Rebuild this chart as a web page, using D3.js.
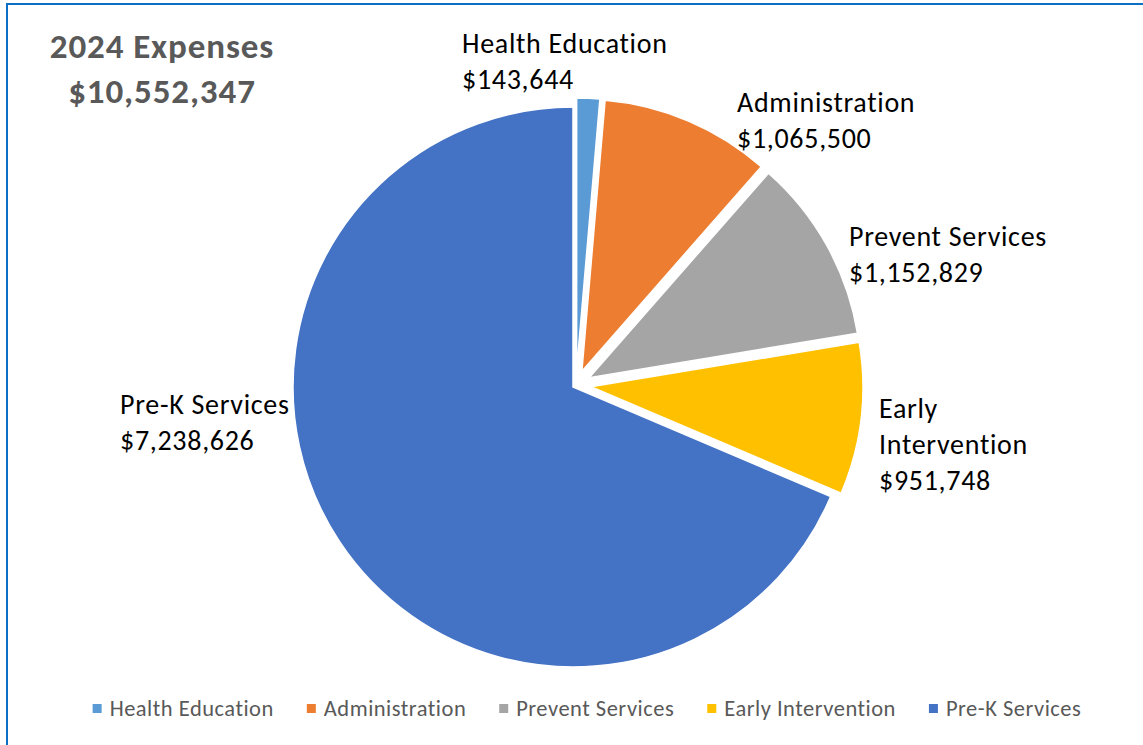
<!DOCTYPE html>
<html>
<head>
<meta charset="utf-8">
<script src="https://cdn.jsdelivr.net/npm/d3@7"></script>
<style>
  html, body { margin: 0; padding: 0; background: #fff; }
  svg { display: block; }
  text { font-family: Carlito, Lato, "Open Sans", sans-serif; }
</style>
</head>
<body>
<svg id="chart" width="1143" height="745"></svg>
<script>
// ---- data ----
const categories = ["Health Education", "Administration", "Prevent Services", "Early Intervention", "Pre-K Services"];
const values = [143644, 1065500, 1152829, 951748, 7238626];
const labelNames = [["Health Education"], ["Administration"], ["Prevent Services"], ["Early", "Intervention"], ["Pre-K Services"]];
const titleText = "2024 Expenses";

// ---- styles / layout ----
const colors = ["#5B9BD5", "#ED7D31", "#A5A5A5", "#FFC000", "#4472C4"];
const explode = [15, 15, 15, 15, 3.6];
const radii = [272, 272, 272, 272, 280];
const labelAnchors = [[462, 53], [737, 112], [849, 246], [879, 418], [120, 414]];
const center = [576, 385];
const lineH = 36;

const svg = d3.select("#chart");

// border
svg.append("rect")
  .attr("x", 7).attr("y", 4)
  .attr("width", 1300).attr("height", 900)
  .attr("fill", "none")
  .attr("stroke", "#0B6FC4")
  .attr("stroke-width", 2);

const fmt = d3.format("$,");
const total = d3.sum(values);

// title
const title = svg.append("text")
  .attr("text-anchor", "middle")
  .attr("fill", "#595959")
  .attr("font-weight", "bold")
  .attr("font-size", 35)
  .attr("letter-spacing", 0.9);
title.append("tspan").attr("x", 162).attr("y", 58).text(titleText);
title.append("tspan").attr("x", 162).attr("y", 103).text(fmt(total));

// pie
const pie = d3.pie().sort(null).value(d => d.value).startAngle(0).endAngle(2 * Math.PI);
const data = categories.map((c, i) => ({ name: c, value: values[i], i }));
const arcs = pie(data);

const g = svg.append("g").attr("transform", `translate(${center[0]},${center[1]})`);

g.selectAll("path.slice")
  .data(arcs)
  .join("path")
  .attr("class", "slice")
  .attr("fill", d => colors[d.data.i])
  .attr("stroke", "#fff")
  .attr("stroke-width", 1.5)
  .attr("transform", d => {
    const a = (d.startAngle + d.endAngle) / 2;
    const e = explode[d.data.i];
    return `translate(${e * Math.sin(a)},${-e * Math.cos(a)})`;
  })
  .attr("d", d => d3.arc().innerRadius(0).outerRadius(radii[d.data.i])(d));

// data labels
arcs.forEach(d => {
  const i = d.data.i;
  const [x, y] = labelAnchors[i];
  const t = svg.append("text")
    .attr("fill", "#000")
    .attr("font-size", 28)
    .attr("letter-spacing", 0.7);
  const lines = labelNames[i].concat([fmt(values[i])]);
  lines.forEach((ln, k) => {
    t.append("tspan").attr("x", x).attr("y", y + k * lineH).text(ln);
  });
});

// legend
const legend = svg.append("g");
const items = legend.selectAll("g.item").data(categories).join("g").attr("class", "item");
items.append("rect")
  .attr("width", 9).attr("height", 9)
  .attr("y", 704)
  .attr("fill", (d, i) => colors[i]);
items.append("text")
  .attr("y", 716)
  .attr("fill", "#595959")
  .attr("font-size", 22.5)
  .attr("letter-spacing", 0.5)
  .text(d => d);
const widths = [];
items.select("text").each(function () { widths.push(this.getComputedTextLength()); });
const sqGap = 8, itemGap = 33, sq = 9;
const totalW = d3.sum(widths) + widths.length * (sq + sqGap) + (widths.length - 1) * itemGap;
let xPos = 587 - totalW / 2;
items.each(function (d, i) {
  const it = d3.select(this);
  it.select("rect").attr("x", xPos);
  it.select("text").attr("x", xPos + sq + sqGap);
  xPos += sq + sqGap + widths[i] + itemGap;
});
</script>
</body>
</html>
